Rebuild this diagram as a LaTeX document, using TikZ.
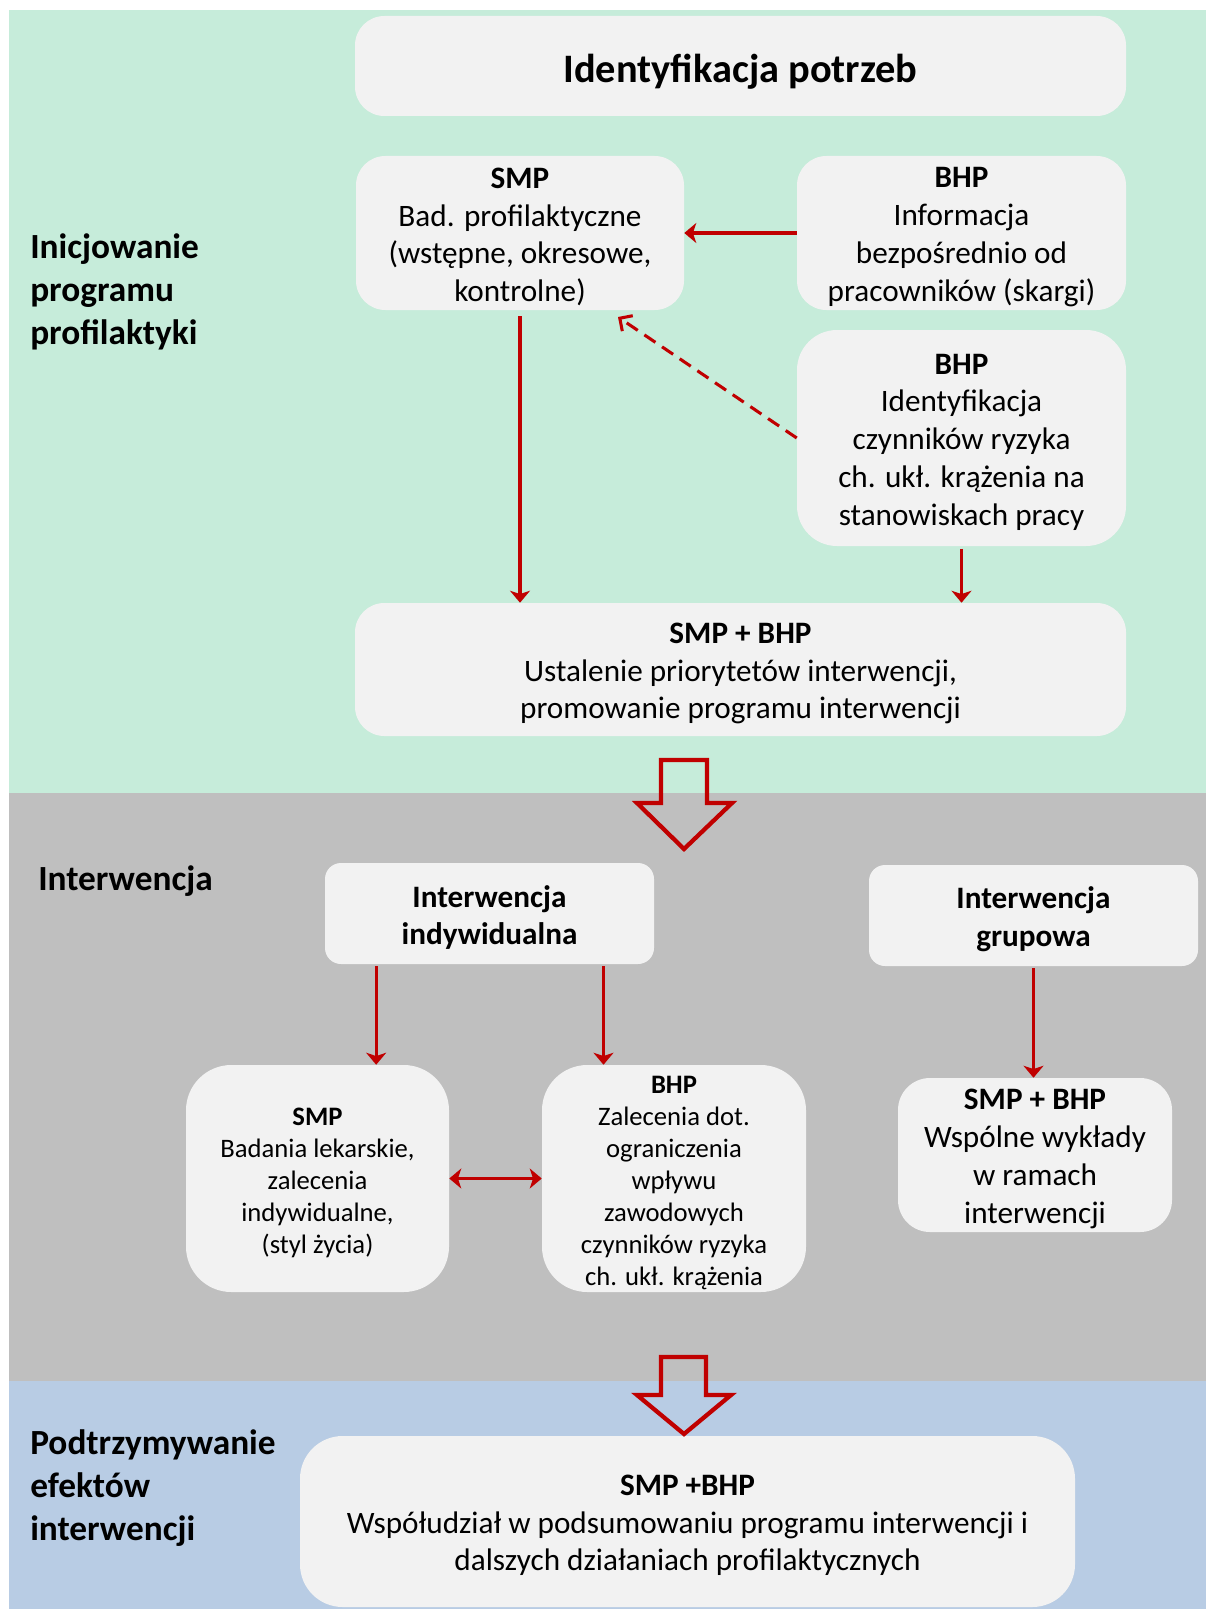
\documentclass[tikz,border=0pt]{standalone}
\usepackage{fontspec}
\setmainfont{Carlito}
\usetikzlibrary{arrows.meta}
\definecolor{bggreen}{HTML}{C6ECDA}
\definecolor{bggray}{HTML}{BFBFBF}
\definecolor{bgblue}{HTML}{B8CCE4}
\definecolor{boxfill}{HTML}{F2F2F2}
\definecolor{arrred}{HTML}{C00000}
\begin{document}
\begin{tikzpicture}[x=0.75pt,y=-0.75pt,
  box/.style={fill=boxfill, draw=none, inner sep=0pt, rounded corners=#1},
  box/.default=19pt,
  txt/.style={align=center, inner sep=0pt, yshift=-3pt},
  mainf/.style={font=\fontsize{23.4}{28.3}\selectfont},
  smallf/.style={font=\fontsize{20}{24}\selectfont},
  titlef/.style={font=\fontsize{30.3}{36}\selectfont\bfseries},
  lab/.style={font=\fontsize{26.5}{32}\selectfont\bfseries, anchor=west, align=left, inner sep=0pt},
  conn/.style={draw=arrred, line width=2.3pt, -{Stealth[length=9pt,width=15pt,inset=2.5pt]}},
  biconn/.style={draw=arrred, line width=2.3pt, {Stealth[length=9pt,width=15pt,inset=2.5pt]}-{Stealth[length=9pt,width=15pt,inset=2.5pt]}},
  dconn/.style={draw=arrred, line width=2.3pt, dash pattern=on 10pt off 6pt, -{Straight Barb[length=7pt,width=14pt]}},
  blockarrow/.style={draw=arrred, line width=3.2pt, line join=miter}
]
\useasboundingbox (0,0) rectangle (1206,1609);
\fill[white] (0,0) rectangle (1206,1609);
% bands
\fill[bggreen] (9,10) rectangle (1206,793);
\fill[bggray] (9,793) rectangle (1206,1381);
\fill[bgblue] (9,1381) rectangle (1206,1609);

% section labels
\node[lab] (l1) at (30,292) {Inicjowanie\\programu\\profilaktyki};
\node[lab] (l2) at (38,881) {Interwencja};
\node[lab] (l3) at (30,1488) {Podtrzymywanie\\efektów\\interwencji};

% boxes
\node[box=22pt, minimum width=578.25pt, minimum height=75pt] (title) at (740.5,66) {};
\node[box=22pt, minimum width=246pt, minimum height=115.5pt] (smp1) at (520,233) {};
\node[box=22pt, minimum width=246.75pt, minimum height=115.5pt] (bhp1) at (961.5,233) {};
\node[box=30pt, minimum width=246.75pt, minimum height=162pt] (bhp2) at (961.5,438) {};
\node[box=22pt, minimum width=578.25pt, minimum height=99.75pt] (smpbhp) at (740.5,669.5) {};
\node[box=12pt, minimum width=246.75pt, minimum height=75.75pt] (ind) at (489.5,913.5) {};
\node[box=12pt, minimum width=246.75pt, minimum height=75.75pt] (grp) at (1033.5,915.5) {};
\node[box=34pt, minimum width=197.25pt, minimum height=170.25pt] (smp2) at (317.5,1178.5) {};
\node[box=34pt, minimum width=198pt, minimum height=170.25pt] (bhp3) at (674,1178.5) {};
\node[box=24pt, minimum width=205.5pt, minimum height=115.5pt] (grp2) at (1035,1155) {};
\node[box=32pt, minimum width=581.25pt, minimum height=128.25pt] (fin) at (687.5,1521.5) {};

% box texts
\node[txt, titlef, yshift=-1pt] (titlet) at (title.center) {Identyfikacja potrzeb};
\node[txt, mainf] (smp1t) at (smp1.center) {\textbf{SMP}\\Bad. profilaktyczne\\(wstępne, okresowe,\\kontrolne)};
\node[txt, mainf] (bhp1t) at (bhp1.center) {\textbf{BHP}\\Informacja\\bezpośrednio od\\pracowników (skargi)};
\node[txt, mainf] (bhp2t) at (bhp2.center) {\textbf{BHP}\\Identyfikacja\\czynników ryzyka\\ch. ukł. krążenia na\\stanowiskach pracy};
\node[txt, mainf] (smpbhpt) at (smpbhp.center) {\textbf{SMP + BHP}\\Ustalenie priorytetów interwencji,\\promowanie programu interwencji};
\node[txt, mainf] (indt) at (ind.center) {\textbf{Interwencja}\\\textbf{indywidualna}};
\node[txt, mainf] (grpt) at (grp.center) {\textbf{Interwencja}\\\textbf{grupowa}};
\node[txt, smallf] (smp2t) at (smp2.center) {\textbf{SMP}\\Badania lekarskie,\\zalecenia\\indywidualne,\\(styl życia)};
\node[txt, smallf] (bhp3t) at (bhp3.center) {\textbf{BHP}\\Zalecenia dot.\\ograniczenia\\wpływu\\zawodowych\\czynników ryzyka\\ch. ukł. krążenia};
\node[txt, mainf] (grp2t) at (grp2.center) {\textbf{SMP + BHP}\\Wspólne wykłady\\w ramach\\interwencji};
\node[txt, mainf] (fint) at (fin.center) {\textbf{SMP +BHP}\\Współudział w podsumowaniu programu interwencji i\\dalszych działaniach profilaktycznych};

% connectors
\coordinate (dtip) at (618,317);
\draw[conn] (bhp1.west) -- (smp1.east);
\draw[dconn] (bhp2.west) -- (dtip);
\draw[conn, shorten <=4.5pt] (smp1.south) -- (smp1.south |- smpbhp.north);
\draw[conn, shorten <=2pt] (bhp2.south) -- (bhp2.south |- smpbhp.north);
\draw[conn, shorten <=1.5pt] ([xshift=-85pt]ind.south) -- ([xshift=-85pt]ind.south |- smp2.north);
\draw[conn, shorten <=1.5pt] ([xshift=85.5pt]ind.south) -- ([xshift=85.5pt]ind.south |- bhp3.north);
\draw[conn, shorten <=1.5pt] (grp.south) -- (grp.south |- grp2.north);
\draw[biconn] (smp2.east) -- (bhp3.west);

% block arrows
\draw[blockarrow] (661,760) -- (707,760) -- (707,803) -- (732,803) -- (684,849) -- (637,803) -- (661,803) -- cycle;
\draw[blockarrow] (661,1357) -- (706,1357) -- (706,1395) -- (731,1395) -- (684,1434) -- (637,1395) -- (661,1395) -- cycle;
\end{tikzpicture}
\end{document}
